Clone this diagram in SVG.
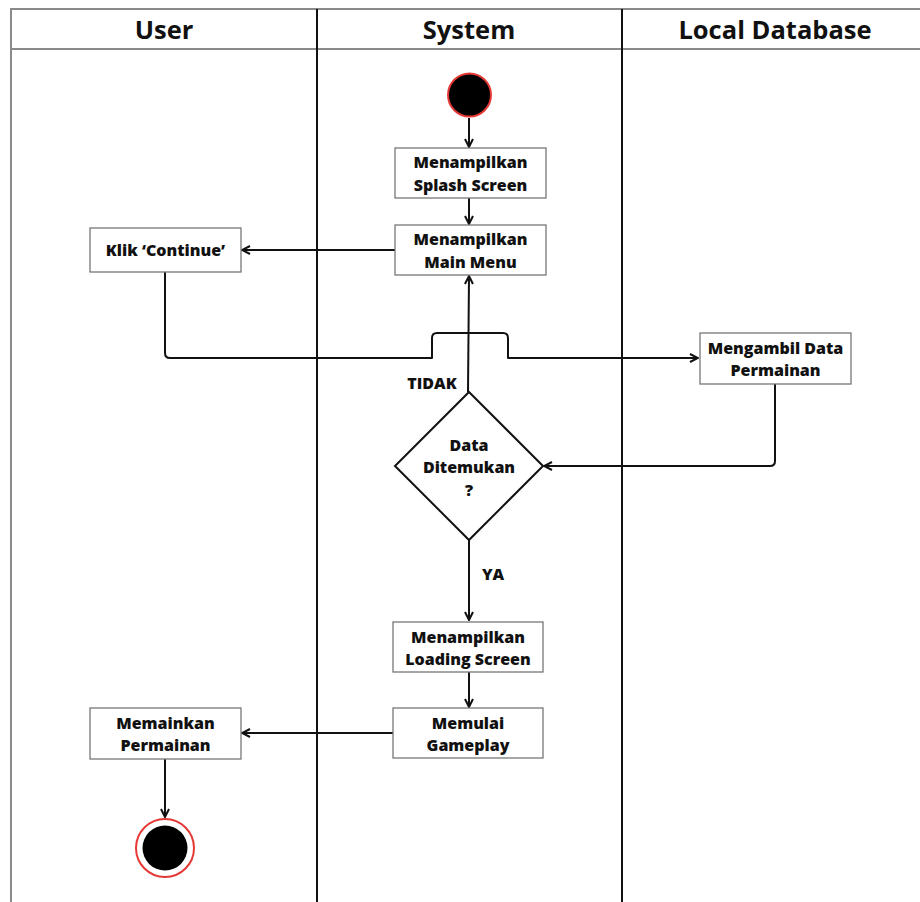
<svg xmlns="http://www.w3.org/2000/svg" width="920" height="902" viewBox="0 0 920 902">
<defs>
<style>
.frame{stroke:#8a8a8a;stroke-width:2;fill:none}
.lane{stroke:#111;stroke-width:2;fill:none}
.box{fill:#fff;stroke:#777;stroke-width:1.3}
.t{font-family:"Open Sans","Liberation Sans",sans-serif;font-weight:800;font-size:16px;fill:#111;text-anchor:middle}
.h{font-family:"Open Sans","Liberation Sans",sans-serif;font-weight:bold;font-size:25.5px;fill:#111;text-anchor:middle}
.c{stroke:#111;stroke-width:2;fill:none;stroke-linejoin:round}
</style>
<marker id="arr" viewBox="0 0 10 10" refX="9" refY="5" markerWidth="10" markerHeight="10" markerUnits="userSpaceOnUse" orient="auto">
<path d="M1,1 L9,5 L1,9" fill="none" stroke="#111" stroke-width="2"/>
</marker>
</defs>
<rect width="920" height="902" fill="#fff"/>
<g id="swimlanes">
<path class="frame" d="M11,902 V9 H920 M11,49 H920"/>
<line class="lane" x1="317" y1="9" x2="317" y2="902"/>
<line class="lane" x1="622" y1="9" x2="622" y2="902" stroke-width="1.5"/>
<text class="h" x="164" y="39">User</text>
<text class="h" x="469" y="39">System</text>
<text class="h" x="775" y="39">Local Database</text>
</g>
<g id="connectors">
<path class="c" d="M469,118 V147" marker-end="url(#arr)"/>
<path class="c" d="M469,198 V224" marker-end="url(#arr)"/>
<path class="c" d="M395,250 H242" marker-end="url(#arr)"/>
<path class="c" d="M165,272 V353 Q165,358 170,358 H432 V338 Q432,333 437,333 H503 Q508,333 508,338 V358 H698" marker-end="url(#arr)"/>
<path class="c" d="M468,392 L469,276" marker-end="url(#arr)"/>
<path class="c" d="M775,384 V461 Q775,466 770,466 H544" marker-end="url(#arr)"/>
<path class="c" d="M469,540 V620" marker-end="url(#arr)"/>
<path class="c" d="M469,672 V707" marker-end="url(#arr)"/>
<path class="c" d="M393,733 H242" marker-end="url(#arr)"/>
<path class="c" d="M165,759 V817" marker-end="url(#arr)"/>
<text class="t" x="432" y="389">TIDAK</text>
<text class="t" x="493" y="580">YA</text>
</g>
<g id="start">
<circle cx="469.5" cy="95" r="21.5" fill="#000" stroke="#e53935" stroke-width="2"/>
</g>
<g id="splash">
<rect class="box" x="395" y="148" width="151" height="50"/>
<text class="t" x="470.5" y="168">Menampilkan</text>
<text class="t" x="470.5" y="191">Splash Screen</text>
</g>
<g id="mainmenu">
<rect class="box" x="395" y="225" width="151" height="50"/>
<text class="t" x="470.5" y="245">Menampilkan</text>
<text class="t" x="470.5" y="268">Main Menu</text>
</g>
<g id="klik">
<rect class="box" x="90" y="228" width="151" height="44"/>
<text class="t" x="165.5" y="256">Klik ‘Continue’</text>
</g>
<g id="mengambil">
<rect class="box" x="700" y="333" width="151" height="51"/>
<text class="t" x="775.5" y="354">Mengambil Data</text>
<text class="t" x="775.5" y="376">Permainan</text>
</g>
<g id="decision">
<polygon points="469,392 543,466 469,540 395,466" fill="#fff" stroke="#111" stroke-width="2"/>
<text class="t" x="469" y="451">Data</text>
<text class="t" x="469" y="473">Ditemukan</text>
<text class="t" x="469" y="496">?</text>
</g>
<g id="loading">
<rect class="box" x="393" y="622" width="150" height="50"/>
<text class="t" x="468" y="643">Menampilkan</text>
<text class="t" x="468" y="665">Loading Screen</text>
</g>
<g id="gameplay">
<rect class="box" x="393" y="708" width="150" height="50"/>
<text class="t" x="468" y="729">Memulai</text>
<text class="t" x="468" y="751">Gameplay</text>
</g>
<g id="memainkan">
<rect class="box" x="90" y="708" width="151" height="51"/>
<text class="t" x="165.5" y="729">Memainkan</text>
<text class="t" x="165.5" y="751">Permainan</text>
</g>
<g id="end">
<circle cx="165" cy="848" r="29" fill="#fff" stroke="#e53935" stroke-width="2"/>
<circle cx="165" cy="848" r="22.5" fill="#000"/>
</g>
</svg>
